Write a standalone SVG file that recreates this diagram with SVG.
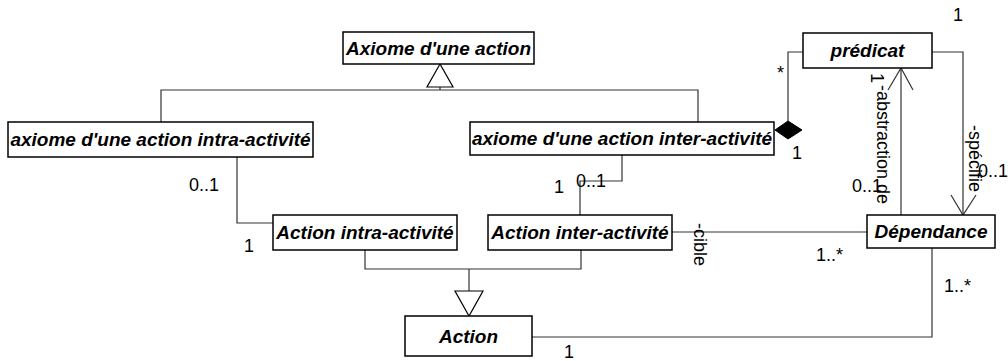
<svg xmlns="http://www.w3.org/2000/svg" width="1008" height="361" viewBox="0 0 1008 361">
<style>
.box{fill:#fff;stroke:#000;stroke-width:1.5}
.t{font-family:"Liberation Sans",Arial,sans-serif;font-size:19px;font-weight:bold;font-style:italic;text-anchor:middle;fill:#000}
.l{font-family:"Liberation Sans",Arial,sans-serif;font-size:18px;fill:#000}
.c{fill:none;stroke:#333;stroke-width:1.2}
.tri{fill:#fff;stroke:#000;stroke-width:1.2}
</style>
<rect width="1008" height="361" fill="#fff"/>
<g id="connectors">
  <polyline class="c" points="161,122 161,90 698,90 698,122"/>
  <line class="c" x1="440" y1="87" x2="440" y2="90"/>
  <polygon class="tri" points="440,64 427,87 453,87"/>
  <polyline class="c" points="237,157 237,223 273,223"/>
  <polyline class="c" points="622,155 622,181 580,181 580,215"/>
  <polyline class="c" points="788,121 788,52 803,52"/>
  <polygon points="775,130 788,121 802,130 788,139" fill="#000" stroke="#000"/>
  <polyline class="c" points="932,52 963,52 963,215"/>
  <polyline class="c" points="951,195 963,215 976,195"/>
  <line class="c" x1="901" y1="215" x2="901" y2="68"/>
  <polyline class="c" points="888,90 901,68 913,90"/>
  <line class="c" x1="672" y1="232" x2="867" y2="232"/>
  <polyline class="c" points="365,250 365,269 581,269 581,250"/>
  <line class="c" x1="469" y1="269" x2="469" y2="291"/>
  <polygon class="tri" points="455,291 483,291 469,316"/>
  <polyline class="c" points="532,337 932,337 932,248"/>
</g>
<g id="n-axiome">
  <rect class="box" x="343" y="32" width="191" height="32"/>
  <text class="t" x="438.5" y="55">Axiome d'une action</text>
</g>
<g id="n-axiome-intra">
  <rect class="box" x="8" y="122" width="305" height="35"/>
  <text class="t" x="160.5" y="146">axiome d'une action intra-activité</text>
</g>
<g id="n-axiome-inter">
  <rect class="box" x="470" y="122" width="304" height="33"/>
  <text class="t" x="622" y="145">axiome d'une action inter-activité</text>
</g>
<g id="n-predicat">
  <rect class="box" x="803" y="33" width="129" height="35"/>
  <text class="t" x="867.5" y="57">prédicat</text>
</g>
<g id="n-action-intra">
  <rect class="box" x="273" y="215" width="184" height="35"/>
  <text class="t" x="365" y="239">Action intra-activité</text>
</g>
<g id="n-action-inter">
  <rect class="box" x="488" y="215" width="184" height="35"/>
  <text class="t" x="580" y="239">Action inter-activité</text>
</g>
<g id="n-dependance">
  <rect class="box" x="867" y="215" width="128" height="33"/>
  <text class="t" x="931" y="238">Dépendance</text>
</g>
<g id="n-action">
  <rect class="box" x="405" y="316" width="127" height="40"/>
  <text class="t" x="468.5" y="343">Action</text>
</g>
<g id="labels">
  <text class="l" x="953" y="21">1</text>
  <text class="l" x="777" y="79">*</text>
  <text class="l" x="792" y="159">1</text>
  <text class="l" x="189" y="191">0..1</text>
  <text class="l" x="244" y="252">1</text>
  <text class="l" x="554" y="193">1</text>
  <text class="l" x="576" y="187">0..1</text>
  <text class="l" x="816" y="261">1..*</text>
  <text class="l" x="852" y="192">0..1</text>
  <text class="l" x="978" y="177">0..1</text>
  <text class="l" x="944" y="292">1..*</text>
  <text class="l" x="564" y="358">1</text>
  <text class="l" transform="translate(871,73) rotate(90)">1</text>
  <text class="l" transform="translate(877,85) rotate(90)">-abstraction de</text>
  <text class="l" transform="translate(969,125) rotate(90)">-spécifie</text>
  <text class="l" transform="translate(694,223) rotate(90)">-cible</text>
</g>
</svg>
